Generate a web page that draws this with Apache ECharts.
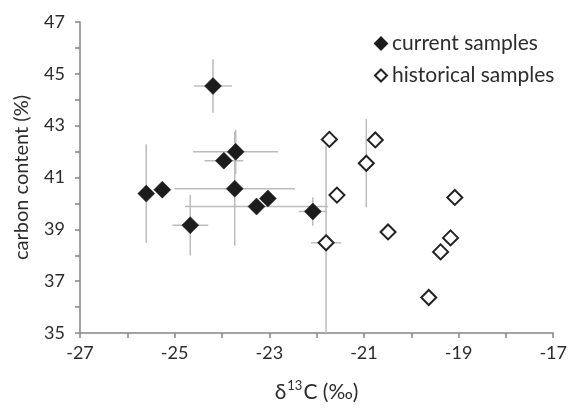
<!DOCTYPE html>
<html><head><meta charset="utf-8">
<script src="https://cdn.jsdelivr.net/npm/echarts@6/dist/echarts.min.js"></script>
<style>html,body{margin:0;padding:0;background:#fff}#c{width:570px;height:408px}</style>
</head><body><div id="c"></div>
<script>
// current samples: centre values and symmetric error bars (x = δ13C, y = carbon %)
const currentX    = [-24.19, -23.71, -23.96, -23.73, -25.60, -25.26, -24.67, -23.27, -23.03, -22.08];
const currentY    = [ 44.53,  41.99,  41.65,  40.57,  40.38,  40.53,  39.16,  39.88,  40.19,  39.69];
const currentXErr = [  0.40,   0.90,   0.41,   1.27,   0,      0,      0.38,   1.51,   0,      0.30];
const currentYErr = [  1.03,   0.85,   0,      2.20,   1.90,   0,      1.17,   0,      0,      0.55];
// historical samples
const historicalX    = [-21.73, -20.76, -20.95, -21.57, -21.80, -20.49, -19.08, -19.17, -19.38, -19.63];
const historicalY    = [ 42.47,  42.45,  41.55,  40.32,  38.48,  38.90,  40.23,  38.67,  38.13,  36.37];
const historicalXErr = [  0,      0,      0,      0,      0.32,   0,      0,      0,      0,      0];
const historicalYErr = [  0,      0,      1.70,   0,      3.75,   0,      0,      0,      0,      0];
// tick labels
const xTickLabels = [-27, -25, -23, -21, -19, -17];
const yTickLabels = [35, 37, 39, 41, 43, 45, 47];
const seriesNames = ['current samples', 'historical samples'];

const FONT = 'Lato';
const TXT = '#2c2c2c';
const AXIS = '#858585';
const ERR = '#bcbcbc';

const errData = [];
currentX.forEach((x, i) => errData.push([x, currentY[i], currentXErr[i], currentYErr[i]]));
historicalX.forEach((x, i) => errData.push([x, historicalY[i], historicalXErr[i], historicalYErr[i]]));

function renderErr(params, api) {
  const x = api.value(0), y = api.value(1), ex = api.value(2), ey = api.value(3);
  const st = { stroke: ERR, lineWidth: 1.5, fill: null };
  const ch = [];
  if (ex > 0) {
    const a = api.coord([x - ex, y]), b = api.coord([x + ex, y]);
    ch.push({ type: 'line', shape: { x1: a[0], y1: a[1], x2: b[0], y2: b[1] }, style: st });
  }
  if (ey > 0) {
    const a = api.coord([x, Math.max(y - ey, 35)]), b = api.coord([x, Math.min(y + ey, 47)]);
    ch.push({ type: 'line', shape: { x1: a[0], y1: a[1], x2: b[0], y2: b[1] }, style: st });
  }
  return { type: 'group', children: ch };
}

const chart = echarts.init(document.getElementById('c'), null, { renderer: 'canvas' });
chart.setOption({
  animation: false,
  backgroundColor: '#fff',
  textStyle: { fontFamily: FONT },
  grid: { left: 80, right: 15, top: 22, bottom: 69, containLabel: false },
  legend: {
    data: seriesNames,
    orient: 'vertical',
    left: 369, top: 28,
    icon: 'diamond',
    itemWidth: 12, itemHeight: 12, itemGap: 11,
    textStyle: { fontFamily: FONT, fontSize: 21, color: TXT, lineHeight: 21 }
  },
  xAxis: {
    type: 'value', min: -27, max: -17, interval: 1,
    name: '{a|δ}{s|13}{a|C (‰)}',
    nameLocation: 'middle', nameGap: 46,
    nameTextStyle: {
      rich: {
        a: { fontFamily: FONT, fontSize: 21, color: TXT, verticalAlign: 'bottom', lineHeight: 24 },
        s: { fontFamily: FONT, fontSize: 13, color: TXT, verticalAlign: 'top', lineHeight: 24, padding: [0, 1, 0, 1] }
      }
    },
    axisLine: { lineStyle: { color: AXIS, width: 1.5 } },
    axisTick: { show: true, inside: false, length: 5, lineStyle: { color: AXIS, width: 1.5 } },
    axisLabel: {
      fontFamily: FONT, fontSize: 18, color: TXT, margin: 11,
      formatter: v => xTickLabels.includes(Math.round(v)) ? String(Math.round(v)) : ''
    },
    splitLine: { show: false }
  },
  yAxis: {
    type: 'value', min: 35, max: 47, interval: 1,
    name: 'carbon content (%)',
    nameLocation: 'middle', nameGap: 48,
    nameTextStyle: { fontFamily: FONT, fontSize: 20, color: TXT },
    axisLine: { show: true, lineStyle: { color: AXIS, width: 1.5 } },
    axisTick: { show: true, inside: false, length: 5, lineStyle: { color: AXIS, width: 1.5 } },
    axisLabel: {
      fontFamily: FONT, fontSize: 18, color: TXT, margin: 15,
      formatter: v => yTickLabels.includes(Math.round(v)) ? String(Math.round(v)) : ''
    },
    splitLine: { show: false }
  },
  series: [
    {
      type: 'custom', name: 'errors', renderItem: renderErr,
      data: errData, encode: { x: 0, y: 1 }, z: 1, silent: true
    },
    {
      type: 'scatter', name: seriesNames[0], symbol: 'diamond', symbolSize: 17, z: 3,
      itemStyle: { color: '#1c1c1c', borderColor: '#1c1c1c', borderWidth: 0.5, opacity: 1 },
      data: currentX.map((x, i) => [x, currentY[i]])
    },
    {
      type: 'scatter', name: seriesNames[1], symbol: 'diamond', symbolSize: 15, z: 3,
      itemStyle: { color: '#ffffff', borderColor: '#222222', borderWidth: 2, opacity: 1 },
      data: historicalX.map((x, i) => [x, historicalY[i]])
    }
  ]
});
</script>
</body></html>
